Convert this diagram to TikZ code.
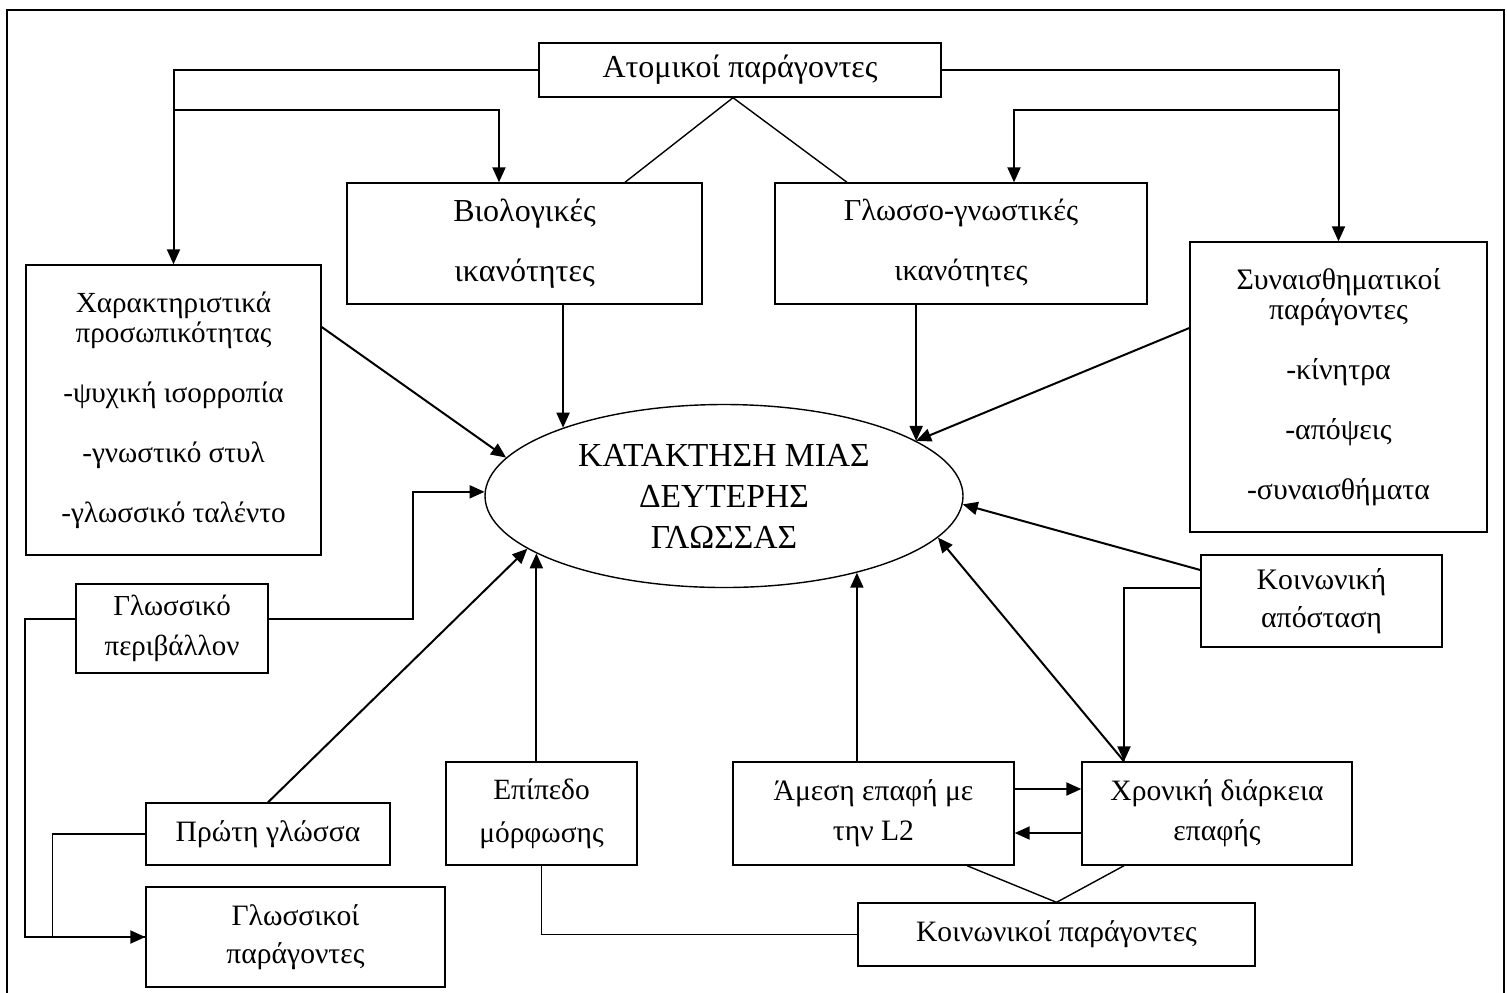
\documentclass[tikz,border=0pt]{standalone}
\usepackage{fontspec}
\setmainfont{Liberation Serif}
\usetikzlibrary{arrows.meta,shapes.geometric}
\begin{document}
\begin{tikzpicture}[x=0.5pt,y=-0.5pt,
	boxnode/.style={draw, line width=0.7pt, align=center, inner sep=0pt, font=\fontsize{14.8}{20}\selectfont},
	arrline/.style={line width=1pt, -{Triangle[length=7.5pt,width=6.5pt]}},
	plainline/.style={line width=0.7pt}]
	\useasboundingbox (0,0) rectangle (1507,992);
	\draw[line width=1pt] (7,10) rectangle (1504,1010);
	\node[boxnode, minimum width=201pt, minimum height=27pt, font=\fontsize{16}{20}\selectfont] (atom) at (740,70) {Ατομικοί παράγοντες};
	\node[boxnode, minimum width=177.5pt, minimum height=60.5pt, font=\fontsize{16}{20}\selectfont] (bio) at (524.5,243.5) {Βιολογικές\\[10pt]ικανότητες};
	\node[boxnode, minimum width=186pt, minimum height=60.5pt, font=\fontsize{15.2}{20}\selectfont] (glgn) at (961,243.5) {Γλωσσο-γνωστικές\\[10pt]ικανότητες};
	\node[boxnode, minimum width=147.5pt, minimum height=145pt, font=\fontsize{14.6}{15}\selectfont] (xar) at (173.5,410) {Χαρακτηριστικά\\προσωπικότητας\\[15pt]-ψυχική ισορροπία\\[15pt]-γνωστικό στυλ\\[15pt]-γλωσσικό ταλέντο};
	\node[boxnode, minimum width=148.5pt, minimum height=145pt, font=\fontsize{14.9}{15}\selectfont] (syn) at (1338.5,387) {Συναισθηματικοί\\παράγοντες\\[15pt]-κίνητρα\\[15pt]-απόψεις\\[15pt]-συναισθήματα};
	\node[draw, ellipse, line width=0.7pt, minimum width=239pt, minimum height=91.5pt, inner sep=0pt, align=center, font=\fontsize{16.8}{20.5}\selectfont] (kat) at (724,496) {ΚΑΤΑΚΤΗΣΗ ΜΙΑΣ\\ΔΕΥΤΕΡΗΣ\\ΓΛΩΣΣΑΣ};
	\node[boxnode, minimum width=96pt, minimum height=44.5pt, font=\fontsize{14.5}{20}\selectfont] (perib) at (172,628.5) {Γλωσσικό\\περιβάλλον};
	\node[boxnode, minimum width=122pt, minimum height=31pt] (prwti) at (268,834) {Πρώτη γλώσσα};
	\node[boxnode, minimum width=149.5pt, minimum height=50pt, font=\fontsize{14.8}{19}\selectfont] (glkoi) at (295.5,937) {Γλωσσικοί\\παράγοντες};
	\node[boxnode, minimum width=95.5pt, minimum height=51.5pt, font=\fontsize{14.7}{21.5}\selectfont] (epip) at (541.5,813.5) {Επίπεδο\\μόρφωσης};
	\node[boxnode, minimum width=140.5pt, minimum height=51.5pt] (ames) at (873.5,813.5) {Άμεση επαφή με\\την L2};
	\node[boxnode, minimum width=135pt, minimum height=51.5pt] (xron) at (1217,813.5) {Χρονική διάρκεια\\επαφής};
	\node[boxnode, minimum width=120.5pt, minimum height=46pt, font=\fontsize{14.9}{19}\selectfont] (apost) at (1321.5,601) {Κοινωνική\\απόσταση};
	\node[boxnode, minimum width=198.5pt, minimum height=31.5pt] (koin) at (1056.5,934.5) {Κοινωνικοί παράγοντες};
	% branches from the top box
	\coordinate (lbr) at (175,110);
	\coordinate (rbr) at (1339,110);
	\draw[arrline] (atom.west) -| (xar.north);
	\draw[arrline] (lbr) -| ([xshift=-12.75pt]bio.north);
	\draw[arrline] (atom.east) -| (syn.north);
	\draw[arrline] (rbr) -| ([xshift=26.5pt]glgn.north);
	\draw[plainline] ([xshift=-3.5pt]atom.south) -- ([xshift=50.25pt]bio.north);
	\draw[plainline] ([xshift=-3.5pt]atom.south) -- ([xshift=-57pt]glgn.north);
	% arrows into the ellipse
	\draw[arrline] (bio.south -| kat.157) -- (kat.157);
	\draw[arrline] (glgn.south -| kat.16) -- (kat.16);
	\draw[arrline] ([yshift=41.5pt]xar.east) -- (kat.170);
	\draw[arrline] ([yshift=29.5pt]syn.west) -- (kat.16);
	\draw[arrline] ([yshift=4.75pt]perib.east) -- ++(144,0) |- (kat.179);
	\draw[arrline] ([yshift=4.75pt]perib.west) -- ++(-50,0) |- (glkoi.west);
	\draw[plainline] (prwti.west) -- ++(-93,0) |- (glkoi.west);
	\draw[arrline] (prwti.north) -- (kat.195);
	\draw[arrline] (epip.north -| kat.197) -- (kat.197);
	\draw[plainline] (epip.south) |- (koin.west);
	\draw[arrline] (ames.north -| kat.330) -- (kat.330);
	\draw[arrline] ([yshift=12.25pt]ames.east) -- ([yshift=12.25pt]xron.west);
	\draw[arrline] ([yshift=-9.75pt]xron.west) -- ([yshift=-9.75pt]ames.east);
	\coordinate (xtop) at ([xshift=-46.5pt]xron.north);
	\draw[arrline] (xtop) -- (kat.349);
	\draw[arrline] ([yshift=15.5pt]apost.west) -- (kat.358);
	\draw[arrline] ([yshift=6.5pt]apost.west) -| (xtop);
	\draw[plainline] (koin.north) -- ([xshift=46.75pt]ames.south);
	\draw[plainline] (koin.north) -- ([xshift=-46.5pt]xron.south);
\end{tikzpicture}
\end{document}
